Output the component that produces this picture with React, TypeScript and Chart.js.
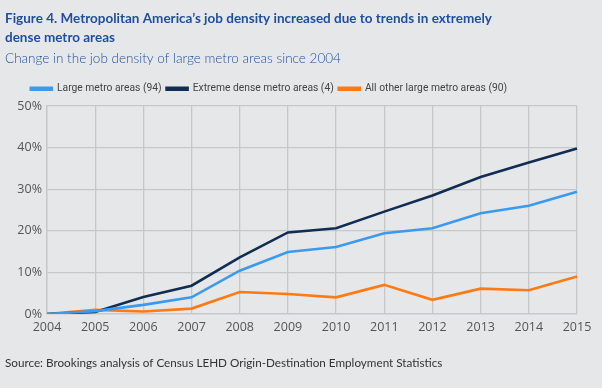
import React, { useEffect, useRef } from "react";
import { Chart, registerables } from "chart.js";

Chart.register(...registerables);

const years = ["2004","2005","2006","2007","2008","2009","2010","2011","2012","2013","2014","2015"];
const largeMetro = [0, 0.7, 2.2, 4.0, 10.4, 14.9, 16.1, 19.4, 20.6, 24.2, 26.0, 29.4];
const extremeDense = [0, 0.5, 4.1, 6.8, 13.6, 19.6, 20.6, 24.6, 28.5, 32.9, 36.4, 39.8];
const allOther = [0, 1.0, 0.6, 1.3, 5.3, 4.8, 4.0, 7.0, 3.4, 6.1, 5.7, 9.0];

const titleLines = [
  "Figure 4. Metropolitan America\u2019s job density increased due to trends in extremely",
  "dense metro areas",
];
const subtitleText = "Change in the job density of large metro areas since 2004";
const sourceText = "Source: Brookings analysis of Census LEHD Origin-Destination Employment Statistics";

const BG = "#e6e7e9";
const FONT = "Lato, 'Open Sans', sans-serif";
const LEGEND_FONT = "Roboto, sans-serif";

export default function App() {
  const ref = useRef<HTMLCanvasElement | null>(null);

  useEffect(() => {
    document.body.style.margin = "0";
    const canvas = ref.current;
    if (!canvas) return;

    const sourcePlugin = {
      id: "sourceText",
      afterLayout(chart: any) {
        const lg = chart.legend;
        if (lg) {
          lg.left -= 22;
          lg.right -= 22;
          lg.top -= 2;
          lg.bottom -= 2;
        }
      },
      afterDraw(chart: any) {
        const ctx = chart.ctx;
        ctx.save();
        ctx.fillStyle = "#333333";
        ctx.font = `11.7px ${FONT}`;
        ctx.textBaseline = "alphabetic";
        ctx.textAlign = "left";
        ctx.fillText(sourceText, 5, 367);
        ctx.restore();
      },
    };

    const chart = new Chart(canvas, {
      type: "line",
      data: {
        labels: years,
        datasets: [
          { label: "Large metro areas (94)", data: largeMetro, borderColor: "#3a9af0", backgroundColor: "#3a9af0" },
          { label: "Extreme dense metro areas (4)", data: extremeDense, borderColor: "#122d53", backgroundColor: "#122d53" },
          { label: "All other large metro areas (90)", data: allOther, borderColor: "#ff7a12", backgroundColor: "#ff7a12" },
        ],
      },
      options: {
        animation: false,
        responsive: false,
        maintainAspectRatio: false,
        elements: {
          line: { borderWidth: 2.6, tension: 0 },
          point: { radius: 0, hoverRadius: 0 },
        },
        layout: { padding: { left: 5, right: 25, top: 0, bottom: 47 } },
        plugins: {
          title: {
            display: true,
            text: titleLines,
            align: "start",
            color: "#1f4e9e",
            font: { family: FONT, size: 13.5, weight: "bold", lineHeight: 1.35 },
            padding: { top: 10, bottom: 4 },
          },
          subtitle: {
            display: true,
            text: subtitleText,
            align: "start",
            color: "#1f4e9e",
            font: { family: FONT, size: 13.5, weight: "300" },
            padding: { top: 0, bottom: 14 },
          },
          legend: {
            display: true,
            position: "top",
            labels: {
              boxWidth: 21,
              boxHeight: 2,
              color: "#444444",
              font: { family: LEGEND_FONT, size: 10.3 },
              padding: 5,
            },
          },
          tooltip: { enabled: false },
        },
        scales: {
          x: {
            grid: { color: "#c6c7c9", lineWidth: 1.3, drawTicks: false },
            border: { color: "#c6c7c9", width: 1.3 },
            ticks: { color: "#555555", font: { family: "'Open Sans', sans-serif", size: 12.5 }, padding: 6, maxRotation: 0 },
          },
          y: {
            min: 0,
            max: 50,
            grid: { color: "#c6c7c9", lineWidth: 1.3, drawTicks: false },
            border: { color: "#c6c7c9", width: 1.3 },
            ticks: {
              stepSize: 10,
              color: "#555555",
              font: { family: "'Open Sans', sans-serif", size: 12.5 },
              padding: 5,
              callback: (v: any) => `${v}%`,
            },
            afterFit: (scale: any) => { scale.width = 42; },
          },
        },
      },
      plugins: [sourcePlugin],
    });

    return () => chart.destroy();
  }, []);

  return (
    <div style={{ width: 602, height: 388, background: BG }}>
      <canvas ref={ref} width={602} height={388} style={{ display: "block" }} />
    </div>
  );
}
